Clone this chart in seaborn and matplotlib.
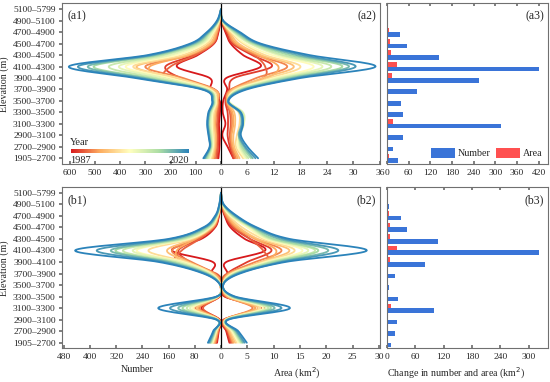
""" Elevation profiles of glacier number and area, 1987-2020 """

import matplotlib
matplotlib.use("Agg")
import matplotlib.pyplot as plt
import numpy as np
import pandas as pd
import seaborn as sns
from matplotlib.colors import LinearSegmentedColormap, Normalize
from matplotlib.cm import ScalarMappable

# elevation bands, top to bottom
elevation_bands = ["5100–5799", "4900–5100", "4700–4900", "4500–4700", "4300–4500",
                   "4100–4300", "3900–4100", "3700–3900", "3500–3700", "3300–3500",
                   "3100–3300", "2900–3100", "2700–2900", "1905–2700"]
years = [1987, 1989, 1991, 1993, 1995, 1997, 2000, 2003, 2006, 2009, 2012, 2015, 2018, 2020]

# (a1) number per band, one row per year
number_a = [
    [0, 3, 10, 28, 92, 175, 45, 42, 5, 4, 8, 5, 6, 10],
    [0, 4, 12, 30, 108, 220, 160, 25, 8, 9, 12, 10, 12, 15],
    [0, 5, 14, 32, 100, 200, 215, 30, 10, 13, 16, 14, 15, 20],
    [0, 5, 15, 36, 120, 300, 150, 26, 12, 18, 22, 19, 20, 26],
    [0, 6, 18, 40, 128, 282, 225, 30, 14, 21, 24, 21, 22, 30],
    [0, 6, 21, 46, 135, 335, 180, 31, 15, 23, 27, 22, 25, 33],
    [0, 7, 26, 56, 152, 348, 172, 40, 18, 28, 31, 28, 28, 38],
    [0, 8, 30, 66, 176, 378, 202, 46, 20, 33, 36, 33, 32, 43],
    [0, 9, 35, 76, 200, 405, 226, 51, 23, 37, 41, 36, 35, 48],
    [0, 10, 41, 86, 226, 445, 256, 56, 26, 41, 46, 40, 38, 53],
    [0, 11, 45, 96, 246, 505, 282, 61, 28, 43, 49, 43, 40, 58],
    [0, 12, 48, 106, 262, 528, 302, 66, 31, 46, 51, 46, 42, 62],
    [0, 14, 52, 115, 276, 567, 322, 71, 33, 48, 53, 48, 44, 66],
    [0, 16, 56, 122, 290, 603, 340, 75, 35, 50, 55, 50, 45, 70],
]
# (a2) area per band (km2)
area_a = [
    [0, 0.1, 1.0, 2.2, 5.0, 9.0, 1.2, 1.4, 0.5, 0.4, 1.0, 0.3, 1.5, 2.8],
    [0, 0.1, 1.2, 2.6, 7.0, 11.5, 3.0, 1.8, 1.0, 1.5, 1.6, 1.5, 2.0, 2.8],
    [0, 0.2, 1.5, 3.0, 7.5, 10.0, 9.5, 2.2, 1.2, 2.0, 2.2, 2.0, 2.3, 3.1],
    [0, 0.2, 1.6, 3.2, 8.0, 15.0, 8.0, 2.4, 1.3, 2.3, 2.5, 2.2, 2.5, 3.4],
    [0, 0.2, 1.8, 3.5, 8.5, 13.0, 10.5, 2.6, 1.4, 2.6, 2.8, 2.4, 2.7, 3.8],
    [0, 0.2, 2.0, 4.0, 9.0, 16.5, 9.5, 2.8, 1.5, 3.0, 3.2, 2.8, 3.0, 4.2],
    [0, 0.3, 2.2, 5.0, 10.0, 18.0, 11.0, 3.2, 1.7, 4.0, 4.2, 3.6, 3.4, 5.0],
    [0, 0.3, 2.5, 5.5, 11.5, 21.0, 12.0, 3.6, 1.8, 4.6, 4.8, 4.0, 3.8, 5.4],
    [0, 0.3, 2.8, 6.5, 13.0, 23.0, 13.0, 4.0, 1.8, 5.0, 5.2, 4.3, 4.2, 5.8],
    [0, 0.4, 3.0, 7.0, 14.0, 25.0, 14.0, 4.3, 1.7, 4.8, 5.0, 4.2, 4.5, 6.2],
    [0, 0.4, 3.3, 7.5, 15.5, 27.5, 15.0, 4.6, 1.6, 4.5, 4.8, 4.1, 4.8, 6.8],
    [0, 0.4, 3.6, 8.0, 17.0, 29.0, 16.0, 5.0, 1.5, 4.2, 4.6, 4.0, 5.2, 7.2],
    [0, 0.5, 4.0, 8.5, 18.5, 30.5, 17.0, 5.3, 1.6, 4.3, 4.8, 4.2, 5.5, 7.8],
    [0, 0.5, 4.3, 9.0, 20.0, 35.0, 18.0, 5.8, 1.7, 4.5, 5.0, 4.5, 6.0, 8.4],
]
# (b1) number per band
number_b = [
    [0, 1, 6, 18, 60, 150, 25, 30, 2, 4, 60, 4, 7, 12],
    [0, 2, 7, 20, 70, 130, 95, 20, 2, 5, 80, 5, 8, 14],
    [0, 2, 8, 22, 65, 120, 135, 15, 2, 6, 55, 6, 9, 16],
    [0, 2, 8, 24, 75, 150, 90, 20, 2, 7, 66, 7, 10, 18],
    [0, 2, 9, 26, 78, 135, 120, 22, 2, 7, 70, 7, 11, 20],
    [0, 3, 10, 28, 85, 165, 100, 25, 2, 8, 74, 8, 12, 22],
    [0, 3, 10, 30, 90, 222, 105, 28, 2, 9, 82, 9, 14, 24],
    [0, 3, 11, 33, 98, 258, 115, 32, 2, 10, 88, 10, 15, 26],
    [0, 3, 12, 35, 105, 270, 125, 35, 2, 10, 95, 10, 16, 28],
    [0, 4, 13, 38, 115, 300, 140, 38, 2, 11, 105, 11, 18, 30],
    [0, 4, 14, 42, 125, 323, 150, 42, 2, 12, 118, 12, 19, 32],
    [0, 4, 15, 46, 135, 337, 160, 45, 2, 12, 131, 12, 20, 34],
    [0, 5, 16, 50, 150, 380, 175, 50, 2, 13, 156, 13, 22, 37],
    [0, 5, 18, 54, 160, 446, 190, 54, 2, 14, 192, 14, 24, 40],
]
# (b2) area per band (km2)
area_b = [
    [0, 0.1, 0.7, 1.8, 4.5, 8.4, 1.0, 1.2, 0.3, 0.7, 7.7, 0.5, 1.0, 1.6],
    [0, 0.1, 0.8, 2.2, 5.5, 9.6, 5.0, 1.2, 0.3, 0.8, 8.4, 0.6, 1.1, 1.8],
    [0, 0.2, 0.9, 2.5, 5.5, 8.0, 8.5, 1.2, 0.3, 1.0, 6.5, 0.6, 1.3, 2.0],
    [0, 0.2, 1.0, 2.8, 6.5, 11.5, 6.5, 1.4, 0.4, 1.1, 6.0, 0.7, 1.4, 2.2],
    [0, 0.2, 1.2, 3.0, 6.5, 10.5, 8.0, 1.6, 0.4, 1.2, 6.5, 0.8, 1.5, 2.4],
    [0, 0.2, 1.4, 3.4, 7.0, 13.0, 7.5, 1.8, 0.4, 1.4, 7.0, 0.8, 1.7, 2.7],
    [0, 0.3, 1.6, 4.0, 8.0, 14.0, 8.0, 2.0, 0.4, 1.6, 7.5, 0.9, 1.9, 3.0],
    [0, 0.3, 1.8, 5.0, 8.5, 15.5, 8.5, 2.2, 0.4, 1.8, 8.0, 1.0, 2.1, 3.3],
    [0, 0.3, 2.0, 5.5, 9.0, 16.6, 9.0, 2.4, 0.4, 1.9, 8.5, 1.0, 2.3, 3.6],
    [0, 0.4, 2.2, 5.8, 9.5, 17.9, 9.5, 2.6, 0.4, 2.0, 9.0, 1.1, 2.5, 3.8],
    [0, 0.4, 2.4, 6.0, 10.0, 18.5, 10.0, 2.8, 0.4, 2.1, 9.5, 1.1, 2.6, 4.0],
    [0, 0.4, 2.6, 6.2, 11.0, 20.4, 10.8, 3.0, 0.4, 2.3, 10.2, 1.2, 2.8, 4.2],
    [0, 0.5, 2.8, 6.5, 12.0, 22.3, 11.5, 3.3, 0.4, 2.5, 11.5, 1.3, 3.0, 4.5],
    [0, 0.5, 3.0, 6.8, 13.0, 27.7, 12.2, 3.6, 0.4, 2.7, 13.1, 1.4, 3.3, 4.9],
]
# (a3) / (b3) change per band
change_number_a = [0, 4, 35, 55, 144, 420, 255, 82, 38, 45, 316, 44, 18, 31]
change_area_a = [0, 1, 5, 7.5, 10, 27, 14, 4, 2, 4, 17, 4, 3, 6]
change_number_b = [0, 4, 30, 42, 109, 323, 80, 17, 5, 24, 100, 22, 16, 8.5]
change_area_b = [0, 1.5, 3.6, 6.4, 7, 20.6, 6.4, 0.5, 0.5, 1.5, 7.8, 2, 2, 3]

year_cmap = LinearSegmentedColormap.from_list(
    "year", ["#d7191c", "#fdae61", "#ffffbf", "#abdda4", "#2b83ba"])
FRAME = "#707070"


def smooth(xs, ys, n=16):
    """ Catmull-Rom line through the points (drawing style only) """
    p = np.column_stack([xs, ys]).astype(float)
    p = np.vstack([p[0], p, p[-1]])
    t = np.linspace(0, 1, n, endpoint=False)[:, None]
    out = []
    for k in range(1, len(p) - 2):
        p0, p1, p2, p3 = p[k - 1], p[k], p[k + 1], p[k + 2]
        out.append(0.5 * (2 * p1 + (-p0 + p2) * t
                          + (2 * p0 - 5 * p1 + 4 * p2 - p3) * t ** 2
                          + (-p0 + 3 * p1 - 3 * p2 + p3) * t ** 3))
    out.append(p[-2][None])
    return np.vstack(out)


def draw_profiles(ax, matrix):
    rows = []
    positions = np.arange(len(elevation_bands))
    for year, vals in zip(years, matrix):
        for v, pos in smooth(vals, positions):
            rows.append((year, v, pos))
    df = pd.DataFrame(rows, columns=["year", "value", "pos"])
    sns.lineplot(data=df, x="value", y="pos", hue="year", palette=year_cmap,
                 hue_norm=(1987, 2020), sort=False, estimator=None,
                 legend=False, linewidth=1.3, ax=ax)
    ax.set_xlabel("")
    ax.set_ylabel("")


def draw_bars(ax, numbers, areas):
    df = pd.DataFrame({
        "band": elevation_bands * 2,
        "value": list(numbers) + list(areas),
        "kind": ["Number"] * len(numbers) + ["Area"] * len(areas),
    })
    sns.barplot(data=df, x="value", y="band", hue="kind", order=elevation_bands,
                hue_order=["Area", "Number"], orient="h", saturation=1,
                palette={"Number": "#3a74d8", "Area": "#ff5050"},
                linewidth=0, ax=ax)
    ax.set_ylabel("")
    ax.set_xlabel("")
    ax.tick_params(axis="y", left=False, labelleft=False)
    ax.tick_params(axis="x", direction="in", top=True, length=2.5, color=FRAME)


def style_frame(ax):
    for side in ax.spines.values():
        side.set_color(FRAME)
        side.set_linewidth(0.8)


sns.set_theme(style="ticks")
plt.rcParams["font.family"] = ["Liberation Serif", "DejaVu Serif"]
plt.rcParams["font.size"] = 6.8
plt.rcParams["xtick.labelsize"] = 6.8
plt.rcParams["ytick.labelsize"] = 6.8

fig = plt.figure(figsize=(5.5, 3.82), dpi=100)
rows_y = [(0.5707, 0.4202), (0.0877, 0.4228)]
panels = []
for bottom, height in rows_y:
    left_ax = fig.add_axes([0.1127, bottom, 0.2891, height])
    right_ax = fig.add_axes([0.4018, bottom, 0.2891, height], sharey=left_ax)
    bar_ax = fig.add_axes([0.7036, bottom, 0.2927, height])
    panels.append((left_ax, right_ax, bar_ax))

settings = [
    (number_a, area_a, change_number_a, change_area_a, 630, 36, 446,
     range(600, 0, -100), range(0, 37, 6), range(0, 421, 60), "a"),
    (number_b, area_b, change_number_b, change_area_b, 486, 30.2, 341,
     range(480, 0, -80), range(0, 31, 5), range(0, 301, 60), "b"),
]

for (ax1, ax2, ax3), (num, area, cnum, carea, xl1, xl2, xl3, t1, t2, t3, tag) in zip(panels, settings):
    draw_profiles(ax1, num)
    draw_profiles(ax2, area)
    ax1.set_xlim(xl1, 0)
    ax2.set_xlim(0, xl2)
    ax1.set_ylim(len(elevation_bands) - 0.5, -0.5)
    ax1.set_yticks(range(len(elevation_bands)))
    ax1.set_yticklabels(elevation_bands)
    ax1.set_xticks(list(t1))
    ax2.set_xticks(list(t2))
    for ax in (ax1, ax2):
        style_frame(ax)
        ax.tick_params(axis="x", direction="in", length=2.5, color=FRAME, pad=3.5)
    ax1.tick_params(axis="y", direction="out", length=2.5, color=FRAME, pad=2)
    ax2.tick_params(axis="y", left=False, labelleft=False)
    ax1.spines["right"].set_visible(False)
    ax2.spines["left"].set_color("black")
    ax2.spines["left"].set_linewidth(0.9)
    ax1.set_ylabel("Elevation (m)", fontsize=7.2, labelpad=3)

    draw_bars(ax3, cnum, carea)
    ax3.set_xlim(0, xl3)
    ax3.set_xticks(list(t3))
    ax3.tick_params(axis="x", pad=3.5)
    style_frame(ax3)

    ax1.text(0.035, 0.955, f"({tag}1)", transform=ax1.transAxes, fontsize=8.5, va="top")
    ax2.text(0.975, 0.955, f"({tag}2)", transform=ax2.transAxes, fontsize=8.5, va="top", ha="right")
    ax3.text(0.975, 0.955, f"({tag}3)", transform=ax3.transAxes, fontsize=8.5, va="top", ha="right")

# legend for the bars in (a3)
a3 = panels[0][2]
handles, labels = a3.get_legend_handles_labels()
a3.legend([handles[1], handles[0]], [labels[1], labels[0]], loc="lower right", ncol=2,
          frameon=False, fontsize=7.2, handlelength=2.4, handleheight=1.1,
          columnspacing=0.5, handletextpad=0.3, borderaxespad=0.15)
panels[1][2].get_legend().remove()

# year colour bar inside (a1)
cax = fig.add_axes([0.1285, 0.6003, 0.215, 0.0089])
cb = fig.colorbar(ScalarMappable(norm=Normalize(1987, 2020), cmap=year_cmap),
                  cax=cax, orientation="horizontal")
cb.outline.set_visible(False)
cb.set_ticks([])
fig.text(0.1275, 0.615, "Year", fontsize=7.5, va="bottom")
fig.text(0.1275, 0.592, "1987", fontsize=7.5, va="top")
fig.text(0.343, 0.592, "2020", fontsize=7.5, va="top", ha="right")

# axis titles for the bottom row
b1, b2, b3 = panels[1]
b1.set_xlabel("Number", fontsize=7.2)
b2.set_xlabel("Area (km$^2$)", fontsize=7.2)
b3.set_xlabel("Change in number and area (km$^2$)", fontsize=7.2)
b1.xaxis.set_label_coords(0.47, -0.105)
b2.xaxis.set_label_coords(0.48, -0.105)
b3.xaxis.set_label_coords(0.43, -0.105)

fig.savefig("out.png", dpi=100)
